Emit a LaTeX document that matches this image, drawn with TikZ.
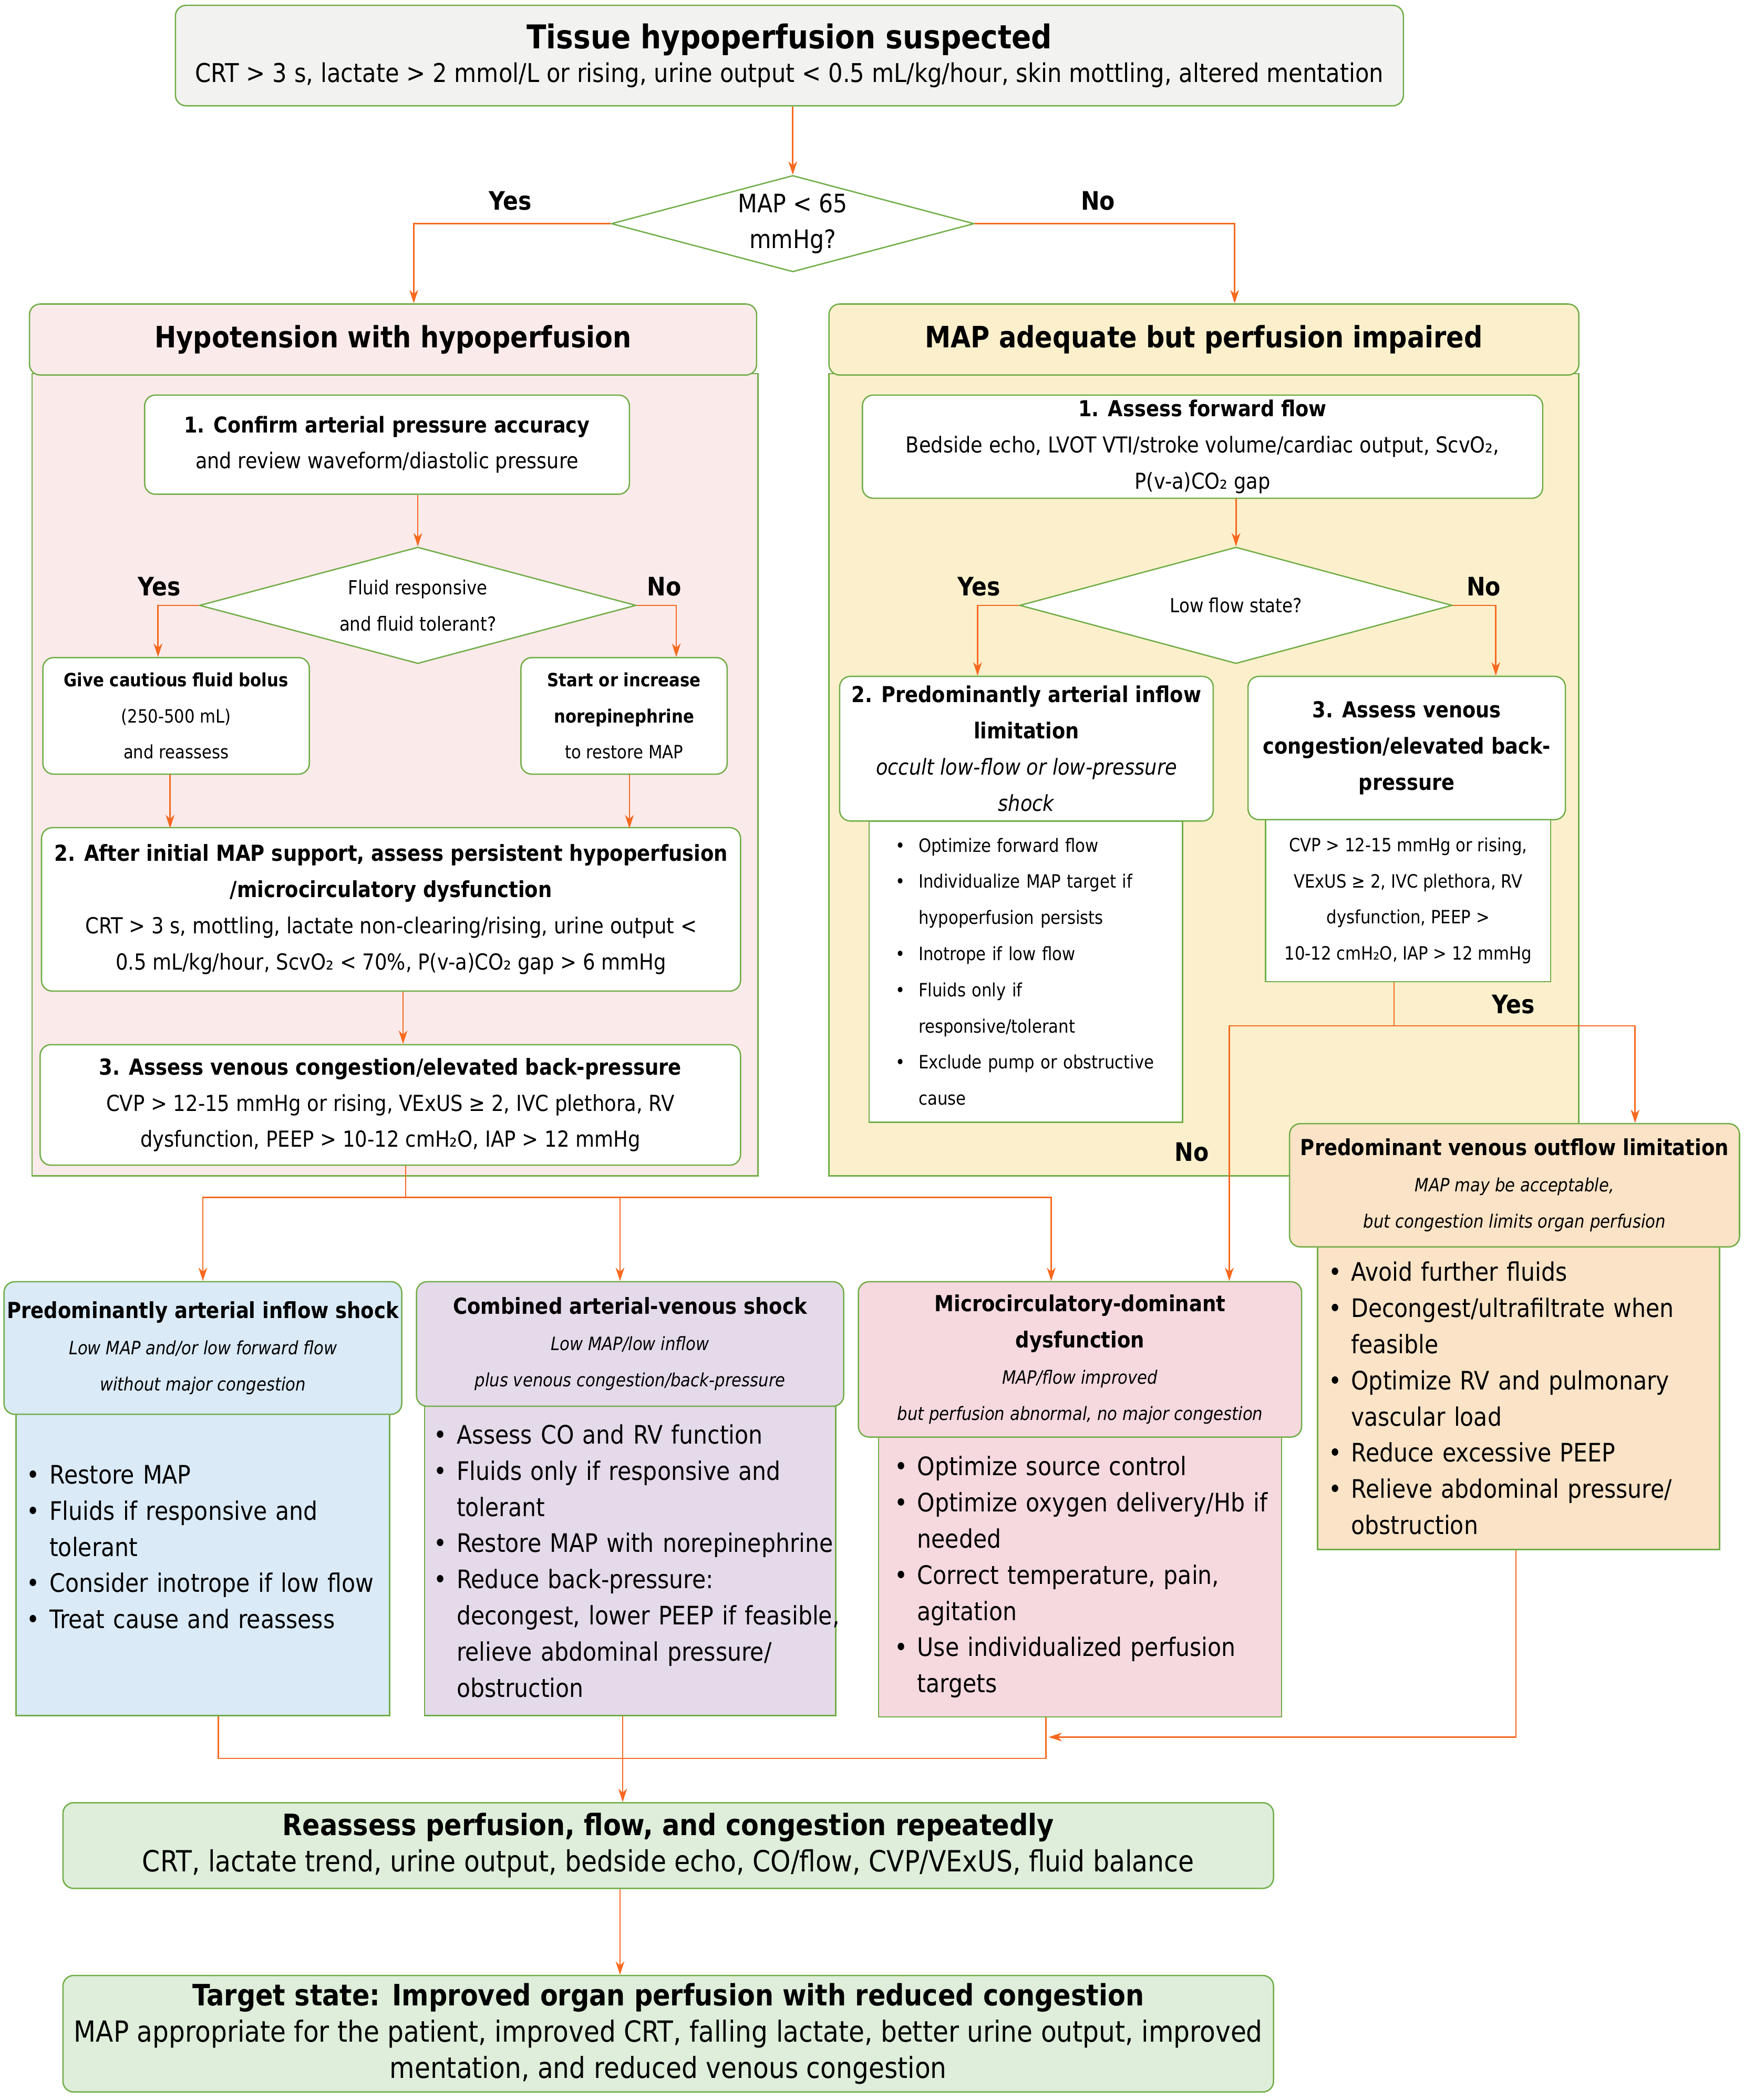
\documentclass[tikz,border=0pt]{standalone}
\usepackage{fontspec}
\setmainfont{DejaVu Sans}[FakeStretch=0.88]
\usepackage{tikz}
\usetikzlibrary{arrows.meta}
\usetikzlibrary{shapes.geometric}
\usetikzlibrary{positioning}
\usepackage{xcolor}

\definecolor{lgreen}{HTML}{70AD47}
\definecolor{flowor}{HTML}{F7691E}
\definecolor{greyfill}{HTML}{F2F2F0}
\definecolor{pinkfill}{HTML}{FBEAEA}
\definecolor{yellowfill}{HTML}{FCF0CC}
\definecolor{peachfill}{HTML}{FAE3C6}
\definecolor{bluefill}{HTML}{DAEAF7}
\definecolor{lilacfill}{HTML}{E5DAEA}
\definecolor{rosefill}{HTML}{F5D9DF}
\definecolor{mintfill}{HTML}{DEEEDA}

\newcommand{\setsz}[1]{\fontsize{#1}{27}\selectfont}
\newcommand{\bitem}[1]{\mbox{\makebox[17pt][l]{\textbullet}#1}}
\newcommand{\bcont}[1]{\mbox{\hspace*{17pt}#1}}

\begin{document}
\begin{tikzpicture}[x=1pt,y=-1pt,
    box/.style={draw=lgreen,line width=1pt,rounded corners=8pt,align=center,inner sep=0pt},
    panel/.style={draw=lgreen,line width=1pt,inner sep=0pt},
    lst/.style={draw=lgreen,line width=1pt,align=left,inner ysep=0pt},
    dia/.style={draw=lgreen,line width=1pt,diamond,fill=white,inner sep=0pt,align=center},
    lbl/.style={font=\setsz{19}\bfseries},
    wire/.style={draw=flowor,line width=1pt},
    arr/.style={wire,-{Stealth[length=10pt,width=6.5pt,inset=3pt]}}]
  \useasboundingbox (0,0) rectangle (1302,1568);
  %% top of the chart
  \node[box,fill=greyfill,minimum width=917pt,minimum height=75pt,
        font=\fontsize{19.3}{25}\selectfont] (start) at (589.5,41.5)
    {{\fontsize{24.5}{25}\selectfont\bfseries Tissue hypoperfusion suspected}\\
     CRT > 3 s, lactate > 2 mmol/L or rising, urine output < 0.5 mL/kg/hour, skin mottling, altered mentation};
  \node[dia,aspect=3.76,minimum width=271pt,minimum height=72pt,font=\setsz{19}] (mapq) at (592,167)
    {MAP < 65\\ mmHg?};
  \node[lbl] (yesmap) at (381,150) {Yes};
  \node[lbl] (nomap) at (820,150) {No};
  %%
  %% left branch
  \node[panel,fill=pinkfill,minimum width=542pt,minimum height=599pt] (hypobody) at (295,578.5) {};
  \node[box,fill=pinkfill,minimum width=543pt,minimum height=53pt,font=\setsz{22}\bfseries]
    (hypohead) at (293.5,253.5) {Hypotension with hypoperfusion};
  \node[box,fill=white,minimum width=362pt,minimum height=74pt,font=\setsz{16.3}] (confirm) at (289,332)
    {\textbf{1. Confirm arterial pressure accuracy}\\ and review waveform/diastolic pressure};
  \node[dia,aspect=3.75,minimum width=326pt,minimum height=87pt,font=\setsz{14.5}] (fluid) at (312,452)
    {Fluid responsive\\ and fluid tolerant?};
  \node[lbl] (yesfluid) at (119,438) {Yes};
  \node[lbl] (nofluid) at (496,438) {No};
  \node[box,fill=white,minimum width=199pt,minimum height=87pt,font=\setsz{13.7}] (bolus) at (131.5,534.5)
    {\textbf{Give cautious fluid bolus}\\ (250-500 mL)\\ and reassess};
  \node[box,fill=white,minimum width=154pt,minimum height=87pt,font=\setsz{13.7}] (norepi) at (466,534.5)
    {\textbf{Start or increase}\\ \textbf{norepinephrine}\\ to restore MAP};
  \node[box,fill=white,minimum width=522pt,minimum height=122pt,font=\setsz{16.5}] (persist) at (292,679)
    {\textbf{2. After initial MAP support, assess persistent hypoperfusion}\\
     \textbf{/microcirculatory dysfunction}\\
     CRT > 3 s, mottling, lactate non-clearing/rising, urine output <\\
     0.5 mL/kg/hour, ScvO₂ < 70\%, P(v-a)CO₂ gap > 6 mmHg};
  \node[box,fill=white,minimum width=523pt,minimum height=90pt,font=\setsz{16.5}] (venL) at (291.5,825)
    {\textbf{3. Assess venous congestion/elevated back-pressure}\\
     CVP > 12-15 mmHg or rising, VExUS ≥ 2, IVC plethora, RV\\
     dysfunction, PEEP > 10-12 cmH₂O, IAP > 12 mmHg};
  %%
  %% right branch
  \node[panel,fill=yellowfill,minimum width=560pt,minimum height=599pt] (adqbody) at (899,578.5) {};
  \node[box,fill=yellowfill,minimum width=560pt,minimum height=53pt,font=\setsz{22}\bfseries]
    (adqhead) at (899,253.5) {MAP adequate but perfusion impaired};
  \node[box,fill=white,minimum width=508pt,minimum height=77pt,font=\setsz{16.4}] (fwd) at (898,333.5)
    {\textbf{1. Assess forward flow}\\ Bedside echo, LVOT VTI/stroke volume/cardiac output, ScvO₂,\\ P(v-a)CO₂ gap};
  \node[dia,aspect=3.7,minimum width=323pt,minimum height=87pt,font=\setsz{14.5}] (lowflow) at (923,452)
    {Low flow state?};
  \node[lbl] (yesflow) at (731,438) {Yes};
  \node[lbl] (noflow) at (1108,438) {No};
  \node[lst,fill=white,minimum width=234pt,minimum height=225pt,inner xsep=20pt,text width=194pt,
        font=\setsz{13.7}] (artlist) at (766,725.5)
    {\bitem{Optimize forward flow}\\ \bitem{Individualize MAP target if}\\ \bcont{hypoperfusion persists}\\
     \bitem{Inotrope if low flow}\\ \bitem{Fluids only if}\\ \bcont{responsive/tolerant}\\
     \bitem{Exclude pump or obstructive}\\ \bcont{cause}};
  \node[box,fill=white,minimum width=279pt,minimum height=108pt,font=\setsz{16.4}] (artlim) at (766.5,559)
    {\textbf{2. Predominantly arterial inflow}\\ \textbf{limitation}\\
     \textit{occult low-flow or low-pressure}\\ \textit{shock}};
  \node[panel,fill=white,minimum width=213pt,minimum height=121pt,align=center,font=\setsz{13.7}]
    (venlist) at (1051.5,672.5)
    {CVP > 12-15 mmHg or rising,\\ VExUS ≥ 2, IVC plethora, RV\\ dysfunction, PEEP >\\ 10-12 cmH₂O, IAP > 12 mmHg};
  \node[box,fill=white,minimum width=237pt,minimum height=107pt,font=\setsz{16.4}\bfseries] (venR) at (1050.5,558.5)
    {3. Assess venous\\ congestion/elevated back-\\ pressure};
  \node[lbl] (yesven) at (1130,750) {Yes};
  \node[lbl] (noven) at (890,860) {No};
  %%
  %% venous outflow
  \node[lst,fill=peachfill,minimum width=300pt,minimum height=226pt,inner xsep=8pt,text width=284pt,
        font=\setsz{19}] (outlist) at (1134,1044)
    {\bitem{Avoid further fluids}\\ \bitem{Decongest/ultrafiltrate when}\\ \bcont{feasible}\\
     \bitem{Optimize RV and pulmonary}\\ \bcont{vascular load}\\ \bitem{Reduce excessive PEEP}\\
     \bitem{Relieve abdominal pressure/}\\ \bcont{obstruction}};
  \node[box,fill=peachfill,minimum width=336pt,minimum height=92pt,font=\setsz{13.7}] (outflow) at (1131,885)
    {{\setsz{16.5}\bfseries Predominant venous outflow limitation}\\
     \textit{MAP may be acceptable,}\\ \textit{but congestion limits organ perfusion}};
  %%
  %% shock types
  \node[lst,fill=bluefill,minimum width=279pt,minimum height=225pt,inner xsep=8pt,text width=263pt,
        font=\setsz{19}] (artshocklist) at (151.5,1168.5)
    {\bitem{Restore MAP}\\ \bitem{Fluids if responsive and}\\ \bcont{tolerant}\\
     \bitem{Consider inotrope if low flow}\\ \bitem{Treat cause and reassess}\\ \mbox{}};
  \node[box,fill=bluefill,minimum width=297pt,minimum height=99pt,font=\setsz{13.7}] (artshock) at (151.5,1006.5)
    {{\setsz{16.5}\bfseries Predominantly arterial inflow shock}\\
     \textit{Low MAP and/or low forward flow}\\ \textit{without major congestion}};
  \node[lst,fill=lilacfill,minimum width=307pt,minimum height=231pt,inner xsep=7pt,text width=293pt,
        font=\setsz{19}] (combolist) at (470.5,1165.5)
    {\bitem{Assess CO and RV function}\\ \bitem{Fluids only if responsive and}\\ \bcont{tolerant}\\
     \bitem{Restore MAP with norepinephrine}\\ \bitem{Reduce back-pressure:}\\
     \bcont{decongest, lower PEEP if feasible,}\\ \bcont{relieve abdominal pressure/}\\ \bcont{obstruction}};
  \node[box,fill=lilacfill,minimum width=319pt,minimum height=93pt,font=\setsz{13.7}] (combo) at (470.5,1003.5)
    {{\setsz{16.5}\bfseries Combined arterial-venous shock}\\
     \textit{Low MAP/low inflow}\\ \textit{plus venous congestion/back-pressure}};
  \node[lst,fill=rosefill,minimum width=301pt,minimum height=209pt,inner xsep=12pt,text width=277pt,
        font=\setsz{19}] (microlist) at (806.5,1177.5)
    {\bitem{Optimize source control}\\ \bitem{Optimize oxygen delivery/Hb if}\\ \bcont{needed}\\
     \bitem{Correct temperature, pain,}\\ \bcont{agitation}\\ \bitem{Use individualized perfusion}\\
     \bcont{targets}};
  \node[box,fill=rosefill,minimum width=331pt,minimum height=116pt,font=\setsz{13.7}] (micro) at (806.5,1015)
    {{\setsz{16.5}\bfseries Microcirculatory-dominant}\\ {\setsz{16.5}\bfseries dysfunction}\\
     \textit{MAP/flow improved}\\ \textit{but perfusion abnormal, no major congestion}};
  %%
  %% bottom
  \node[box,fill=mintfill,minimum width=904pt,minimum height=64pt,font=\setsz{21.8}] (reassess) at (499,1378)
    {{\setsz{22}\bfseries Reassess perfusion, flow, and congestion repeatedly}\\
     CRT, lactate trend, urine output, bedside echo, CO/flow, CVP/VExUS, fluid balance};
  \node[box,fill=mintfill,minimum width=904pt,minimum height=87pt,font=\setsz{21.7}] (target) at (499,1518.5)
    {{\setsz{22}\bfseries Target state: Improved organ perfusion with reduced congestion}\\
     MAP appropriate for the patient, improved CRT, falling lactate, better urine output, improved\\
     mentation, and reduced venous congestion};
  %%
  \coordinate (split) at (303,894);
  \coordinate (vsplit) at (1041,766);
  \coordinate (join) at (465,1313);
  \coordinate (merge) at (783,1297);
  %% connectors
  \draw[arr] (start.south -| mapq.north) -- (mapq.north);
  \draw[arr] (mapq.west) -| ([xshift=15.5pt]hypohead.north);
  \draw[arr] (mapq.east) -| ([xshift=23pt]adqhead.north);
  \draw[arr] (confirm.south -| fluid.north) -- (fluid.north);
  \draw[arr] (fluid.west) -| ([xshift=-13.5pt]bolus.north);
  \draw[arr] (fluid.east) -| ([xshift=39pt]norepi.north);
  \draw[arr] ([xshift=-4.5pt]bolus.south) -- ++(0,40);
  \draw[arr] ([xshift=4pt]norepi.south) -- ++(0,40);
  \draw[arr] ([xshift=9pt]persist.south) -- ++(0,39);
  \draw[wire] (venL.south -| split) -- (split);
  \draw[arr] (split) -| (artshock.north);
  \draw[arr] (split) -| ([xshift=-7.5pt]combo.north);
  \draw[arr] (split) -| ([xshift=-21.5pt]micro.north);
  \draw[arr] (fwd.south -| lowflow.north) -- (lowflow.north);
  \draw[arr] (lowflow.west) -| ([xshift=-36.5pt]artlim.north);
  \draw[arr] (lowflow.east) -| ([xshift=66.5pt]venR.north);
  \draw[wire] (venlist.south -| vsplit) -- (vsplit);
  \draw[arr] (vsplit) -| ([xshift=90pt]outflow.north);
  \draw[arr] (vsplit) -| ([xshift=111.5pt]micro.north);
  \draw[wire] ([xshift=11.5pt]artshocklist.south) |- (join);
  \draw[wire] ([xshift=-25.5pt]microlist.south) |- (join);
  \draw[arr] (combolist.south -| join) -- (reassess.north -| join);
  \draw[arr] ([xshift=-2pt]outlist.south) |- (merge);
  \draw[arr] ([xshift=-36pt]reassess.south) -- ([xshift=-36pt]target.north);
\end{tikzpicture}
\end{document}
